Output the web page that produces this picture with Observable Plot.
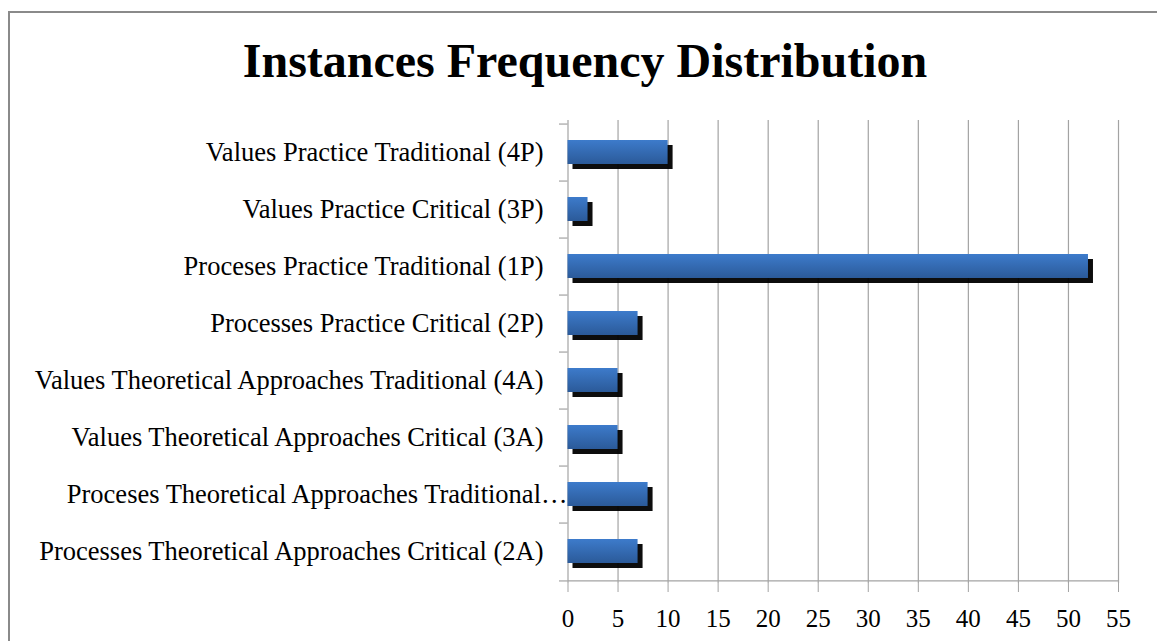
<!DOCTYPE html>
<html>
<head>
<meta charset="utf-8">
<script src="https://cdn.jsdelivr.net/npm/d3@7"></script>
<script src="https://cdn.jsdelivr.net/npm/@observablehq/plot@0.6"></script>
<style>
  html, body { margin: 0; padding: 0; background: #fff; }
  #wrap { position: relative; width: 1157px; height: 641px; overflow: hidden; background: #fff; }
  #border { position: absolute; left: 8px; top: 11px; width: 1300px; height: 800px; border: 2px solid #8a8a8a; box-sizing: border-box; }
  #title { position: absolute; left: 0; top: 37px; width: 1170px; text-align: center;
           font-family: "Liberation Serif", "Times New Roman", serif; font-weight: bold; font-size: 48px; line-height: 48px; color: #000; }
  #chart { position: absolute; left: 0; top: 100px; }
</style>
</head>
<body>
<div id="wrap">
  <div id="border"></div>
  <div id="title">Instances Frequency Distribution</div>
  <div id="chart"></div>
</div>
<script>
// Categories, top to bottom as shown
const categories = [
  "Values Practice Traditional (4P)",
  "Values Practice Critical (3P)",
  "Proceses Practice Traditional (1P)",
  "Processes Practice Critical (2P)",
  "Values Theoretical Approaches Traditional (4A)",
  "Values Theoretical Approaches Critical (3A)",
  "Proceses Theoretical Approaches Traditional…",
  "Processes Theoretical Approaches Critical (2A)"
];
const values = [10, 2, 52, 7, 5, 5, 8, 7];
const xTicks = [0, 5, 10, 15, 20, 25, 30, 35, 40, 45, 50, 55];

const data = categories.map((c, i) => ({category: c, value: values[i]}));
const truncated = categories.filter(c => c.endsWith("…"));
const normalLabels = categories.filter(c => !c.endsWith("…"));

const W = 1157, H = 541;
const mTop = 20, mBottom = 58, mLeft = 567.5, mRight = 39;
const step = (H - mTop - mBottom) / categories.length;
const gridColor = "#a3a3a3";

const plot = Plot.plot({
  width: W,
  height: H,
  marginTop: mTop,
  marginBottom: mBottom,
  marginLeft: mLeft,
  marginRight: mRight,
  style: {background: "transparent", overflow: "visible"},
  x: {domain: [0, 55]},
  y: {domain: categories, padding: 0},
  marks: [
    Plot.gridX(xTicks, {stroke: gridColor, strokeOpacity: 1, strokeWidth: 1.2}),
    Plot.axisX({ticks: xTicks, tickSize: 9, tickPadding: 17, stroke: gridColor, strokeOpacity: 1,
      fontSize: 25, fontFamily: "Liberation Serif", fill: "#000", label: null}),
    // category boundary ticks
    Plot.axisY({tickSize: 8.5, text: null, dy: -step / 2, stroke: gridColor, strokeOpacity: 1, strokeWidth: 1.2, label: null}),
    Plot.axisY({ticks: categories.slice(-1), tickSize: 8.5, text: null, dy: step / 2, stroke: gridColor, strokeOpacity: 1, strokeWidth: 1.2, label: null}),
    Plot.ruleY(categories.slice(-1), {dy: step / 2, stroke: gridColor, strokeWidth: 1.2}),
    // category labels
    Plot.axisY({ticks: normalLabels, tickSize: 0, tickPadding: 24.5, fontSize: 26.5,
      fontFamily: "Liberation Serif", fill: "#000", label: null}),
    Plot.axisY({ticks: truncated, tickSize: 0, tickPadding: 0.5, fontSize: 26.5,
      fontFamily: "Liberation Serif", fill: "#000", label: null}),
    // shadows
    Plot.barX(data, {x: "value", y: "category", insetTop: 16, insetBottom: 17, dx: 5, dy: 5, fill: "#000", fillOpacity: 0.95, className: "shadow"}),
    // bars
    Plot.barX(data, {x: "value", y: "category", insetTop: 16, insetBottom: 17, fill: "url(#barGrad)"})
  ]
});

const defs = d3.select(plot).insert("defs", ":first-child");
const grad = defs.append("linearGradient").attr("id", "barGrad")
  .attr("x1", 0).attr("y1", 0).attr("x2", 0).attr("y2", 1);
grad.append("stop").attr("offset", "0%").attr("stop-color", "#3d7bcb");
grad.append("stop").attr("offset", "100%").attr("stop-color", "#2b5a99");
const blur = defs.append("filter").attr("id", "softShadow")
  .attr("x", "-5%").attr("y", "-20%").attr("width", "110%").attr("height", "140%");
blur.append("feGaussianBlur").attr("stdDeviation", 0.7);
d3.select(plot).selectAll("g.shadow").attr("filter", "url(#softShadow)");

document.getElementById("chart").appendChild(plot);
</script>
</body>
</html>
